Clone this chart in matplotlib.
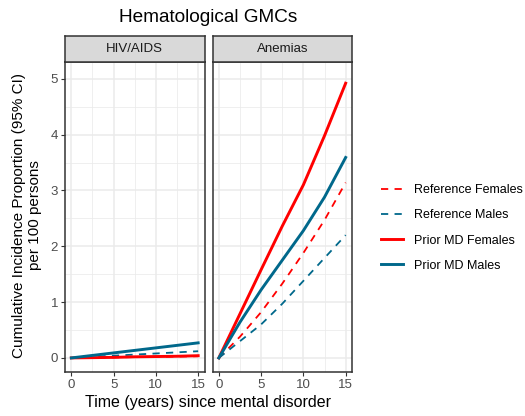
import matplotlib.pyplot as plt
from matplotlib.lines import Line2D

plt.rcParams['font.family'] = ['Liberation Sans', 'DejaVu Sans']

years = [0, 2.5, 5, 7.5, 10, 12.5, 15]
panels = ['HIV/AIDS', 'Anemias']

# cumulative incidence per 100 persons, read at each year above
hiv_ref_f = [0, 0.005, 0.01, 0.015, 0.02, 0.025, 0.03]
hiv_ref_m = [0, 0.02, 0.04, 0.06, 0.08, 0.10, 0.12]
hiv_md_f = [0, 0.005, 0.01, 0.02, 0.025, 0.03, 0.04]
hiv_md_m = [0, 0.045, 0.09, 0.135, 0.18, 0.225, 0.27]

anem_ref_f = [0, 0.38, 0.82, 1.33, 1.88, 2.47, 3.14]
anem_ref_m = [0, 0.30, 0.60, 0.97, 1.38, 1.79, 2.20]
anem_md_f = [0, 0.79, 1.58, 2.36, 3.10, 3.98, 4.92]
anem_md_m = [0, 0.64, 1.22, 1.75, 2.28, 2.88, 3.59]

series_names = ['Reference Females', 'Reference Males', 'Prior MD Females', 'Prior MD Males']
data = {
    'HIV/AIDS': [hiv_ref_f, hiv_ref_m, hiv_md_f, hiv_md_m],
    'Anemias': [anem_ref_f, anem_ref_m, anem_md_f, anem_md_m],
}

red = '#FF0000'
teal = '#00688B'
styles = [
    dict(color=red, lw=1.3, ls=(0, (4, 3.5))),
    dict(color=teal, lw=1.3, ls=(0, (4, 3.5))),
    dict(color=red, lw=2.1, ls='-'),
    dict(color=teal, lw=2.1, ls='-'),
]

fig = plt.figure(figsize=(5.25, 4.16), dpi=100)

lefts = [65 / 525, 212.5 / 525]
w = 139.5 / 525
bottom = (416 - 372) / 416
h = 310 / 416
strip_h = 26 / 416

for i, name in enumerate(panels):
    ax = fig.add_axes([lefts[i], bottom, w, h])
    for vals, st in zip(data[name], styles):
        ax.plot(years, vals, **st)
    ax.set_xlim(-0.75, 15.75)
    ax.set_ylim(-0.252, 5.3)
    ax.set_xticks([0, 5, 10, 15])
    ax.set_xticks([2.5, 7.5, 12.5], minor=True)
    ax.set_yticks([0, 1, 2, 3, 4, 5])
    ax.set_yticks([0.5, 1.5, 2.5, 3.5, 4.5], minor=True)
    ax.grid(which='major', color='#EBEBEB', lw=1.1)
    ax.grid(which='minor', color='#EBEBEB', lw=0.55)
    ax.set_axisbelow(True)
    for sp in ax.spines.values():
        sp.set_color('#333333')
        sp.set_linewidth(1.1)
    ax.tick_params(which='major', length=3, color='#333333', labelsize=9.5,
                   labelcolor='#4D4D4D', pad=2)
    ax.tick_params(which='minor', length=0)
    if i > 0:
        ax.set_yticklabels([])
        ax.tick_params(axis='y', length=0)

    sax = fig.add_axes([lefts[i], bottom + h, w, strip_h])
    sax.set_facecolor('#D9D9D9')
    sax.set_xticks([])
    sax.set_yticks([])
    for sp in sax.spines.values():
        sp.set_color('#333333')
        sp.set_linewidth(1.1)
    sax.text(0.5, 0.5, name, ha='center', va='center', fontsize=9.5,
             color='#1A1A1A', transform=sax.transAxes)

fig.text(208 / 525, 1 - 17 / 416, 'Hematological GMCs', ha='center', va='center',
         fontsize=13.7)
fig.text(208 / 525, 1 - 403 / 416, 'Time (years) since mental disorder',
         ha='center', va='center', fontsize=11.5)
fig.text(27 / 525, 1 - 215 / 416,
         'Cumulative Incidence Proportion (95% CI)\nper 100 persons',
         ha='center', va='center', rotation=90, fontsize=11, linespacing=1.2)

handles = [Line2D([], [], **st) for st in styles]
fig.legend(handles, series_names, loc='center left',
           bbox_to_anchor=(370 / 525, 1 - 228 / 416), frameon=False,
           fontsize=9, handlelength=1.7, handletextpad=0.9, labelspacing=1.05)

fig.savefig('out.png', dpi=100)
